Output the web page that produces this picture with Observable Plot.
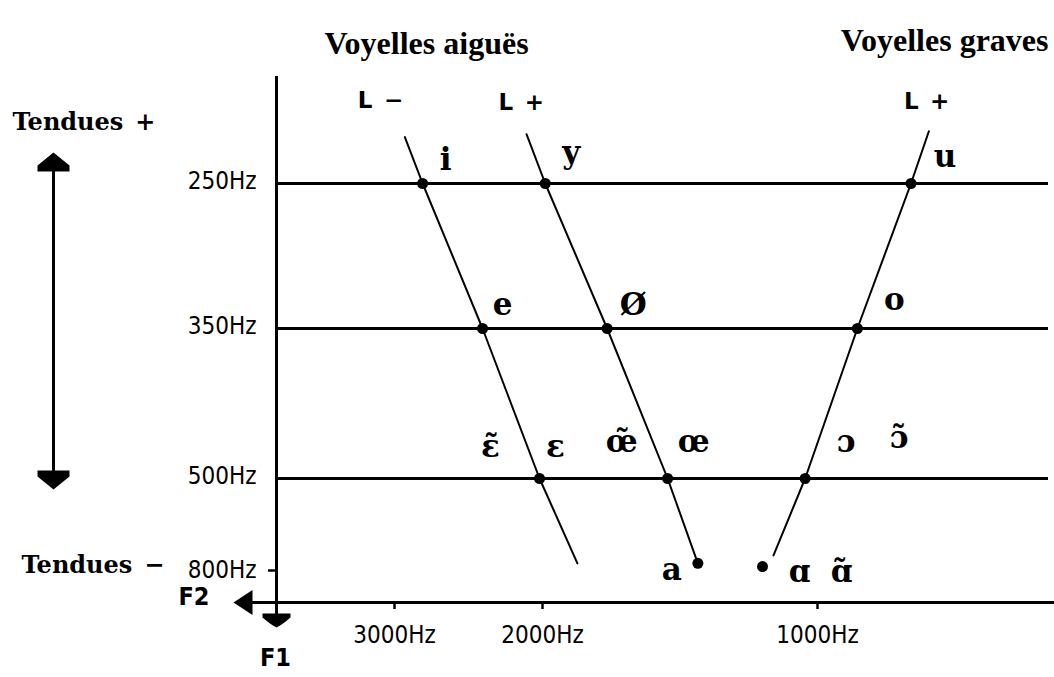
<!DOCTYPE html>
<html><head><meta charset="utf-8">
<script src="https://cdn.jsdelivr.net/npm/d3@7"></script>
<script src="https://cdn.jsdelivr.net/npm/@observablehq/plot@0.6"></script>
<style>
html,body{margin:0;padding:0;background:#fff;overflow:hidden;}
</style></head>
<body><div id="chart"></div>
<script>
// ---------- data ----------
const f2Ticks = [3000, 2000, 1000];          // F2 axis (Hz)
const f1Levels = [250, 350, 500];             // F1 levels with horizontal lines (Hz)
const f1Ticks = [250, 350, 500, 800];         // F1 axis (Hz)

const vowels = ["i", "e", "ɛ", "y", "ø", "œ", "a", "u", "o", "ɔ", "ɑ"];
const vowelF2 = [2810, 2405, 2020, 1990, 1765, 1545, 1435, 660, 855, 1045, 1200];
const vowelF1 = [250, 350, 500, 250, 350, 500, 768, 250, 350, 500, 778];

const seriesNames = ["L −", "L +", "L +"];
const seriesVowels = [["i", "e", "ɛ"], ["y", "ø", "œ", "a"], ["u", "o", "ɔ"]];
const seriesTopF2 = [2930, 2108, 595];
const seriesTopF1 = [218, 216, 214];
const seriesEndF2 = [1873, null, 1160];
const seriesEndF1 = [768, null, 743];

const labelTexts = ["i", "y", "u", "e", "Ø", "o", "ɛ̃", "ɛ", "œ̃", "œ", "ɔ", "ɔ̃", "a", "ɑ", "ɑ̃"];
const labelVowel = ["i", "y", "u", "e", "ø", "o", "ɛ", "ɛ", "œ", "œ", "ɔ", "ɔ", "a", "ɑ", "ɑ"];

const titles = ["Voyelles aiguës", "Voyelles graves"];
const sideLabels = ["Tendues\u2002+", "Tendues\u2002−"];
const axisNames = ["F2", "F1"];

// ---------- layout / style ----------
const SERIF = "'DejaVu Serif', serif";
const TIMES = "'Liberation Serif', serif";
const NARROW = "'Liberation Sans Narrow', 'DejaVu Sans Condensed', 'Arial Narrow', sans-serif";
const SANS = "'DejaVu Sans', sans-serif";
const labelOffsets = [[23,-23],[26,-30],[34,-26],[20,-23],[26,-23],[37,-28],[-49,-31],[16,-31],[-46,-36],[26,-36],[41,-36],[94,-40],[-26,7],[37,6],[79,6]];
const seriesLabelOffsets = [[-47,-36],[-28,-32],[-25,-30]];

const vowelRows = vowels.map((v, i) => ({vowel: v, F2: vowelF2[i], F1: vowelF1[i]}));
const byVowel = Object.fromEntries(vowelRows.map(d => [d.vowel, d]));
const lineRows = [];
seriesNames.forEach((s, k) => {
  lineRows.push({series: k, F2: seriesTopF2[k], F1: seriesTopF1[k]});
  seriesVowels[k].forEach(v => lineRows.push({series: k, F2: byVowel[v].F2, F1: byVowel[v].F1}));
  if (seriesEndF2[k] != null) lineRows.push({series: k, F2: seriesEndF2[k], F1: seriesEndF1[k]});
});
const seriesTops = seriesNames.map((s, k) => ({name: s, F2: seriesTopF2[k], F1: seriesTopF1[k]}));

// arrowhead shapes (decoration)
const leftHead = {draw(c){ c.moveTo(-43,0); c.lineTo(-24,-12.5); c.lineTo(-24,12.5); c.closePath(); }};
const downHead = {draw(c){ c.moveTo(-14,11); c.lineTo(14,11); c.lineTo(14,15); c.quadraticCurveTo(6,22,0,25); c.quadraticCurveTo(-6,22,-14,15); c.closePath(); }};
const doubleArrow = {draw(c){
  c.moveTo(0,75); c.lineTo(16,88); c.lineTo(16,94); c.lineTo(1.5,94); c.lineTo(1.5,393);
  c.lineTo(16,393); c.lineTo(16,399); c.lineTo(0,412); c.lineTo(-16,399); c.lineTo(-16,393);
  c.lineTo(-1.5,393); c.lineTo(-1.5,94); c.lineTo(-16,94); c.lineTo(-16,88); c.closePath();
}};

const tickFont = {fontSize: 24, fontFamily: NARROW};
const marks = [
  Plot.ruleY(f1Levels, {stroke: "black", strokeWidth: 3}),
  Plot.line(lineRows, {x: "F2", y: "F1", z: "series", stroke: "black", strokeWidth: 2}),
  Plot.dot(vowelRows, {x: "F2", y: "F1", r: 5.5, fill: "black", stroke: "none"}),
  Plot.frame({anchor: "left", stroke: "black", strokeWidth: 3, insetBottom: -11}),
  Plot.frame({anchor: "bottom", stroke: "black", strokeWidth: 3, insetLeft: -30, insetRight: -6}),
  Plot.dot([0], {frameAnchor: "bottom-left", symbol: leftHead, fill: "black", stroke: "none"}),
  Plot.dot([0], {frameAnchor: "bottom-left", symbol: downHead, fill: "black", stroke: "none"}),
  Plot.dot([0], {frameAnchor: "top-left", dx: -223, symbol: doubleArrow, fill: "black", stroke: "none"}),
  Plot.axisX(f2Ticks, {anchor: "bottom", tickSize: 7, tickPadding: 16, strokeWidth: 2.5,
    tickFormat: d => `${d}Hz`, ...tickFont, label: null}),
  Plot.axisY(f1Levels, {anchor: "left", tickSize: 0, tickPadding: 20, dy: -2,
    tickFormat: d => `${d}Hz`, ...tickFont, label: null}),
  Plot.axisY([800], {anchor: "left", tickSize: 8, tickPadding: 12, dy: -3, strokeWidth: 2.5,
    tickFormat: d => `${d}Hz`, ...tickFont, label: null}),
  Plot.text([titles[0]], {frameAnchor: "top-left", textAnchor: "middle", dx: 150, dy: -46, fontSize: 32, fontWeight: "bold", fontFamily: TIMES}),
  Plot.text([titles[1]], {frameAnchor: "top-right", textAnchor: "end", dx: 0, dy: -49, fontSize: 32, fontWeight: "bold", fontFamily: TIMES}),
  Plot.text([sideLabels[0]], {frameAnchor: "top-left", textAnchor: "start", dx: -264, dy: 35, fontSize: 24, fontWeight: "bold", fontFamily: SERIF}),
  Plot.text([sideLabels[1]], {frameAnchor: "top-left", textAnchor: "start", dx: -255, dy: 478, fontSize: 24, fontWeight: "bold", fontFamily: SERIF}),
  Plot.text([axisNames[0]], {frameAnchor: "bottom-left", textAnchor: "end", dx: -67, dy: 2, fontSize: 25, fontWeight: "bold", fontFamily: NARROW}),
  Plot.text([axisNames[1]], {frameAnchor: "bottom-left", textAnchor: "middle", dx: -1, dy: 63, fontSize: 25, fontWeight: "bold", fontFamily: NARROW}),
  ...seriesTops.map((d, k) => Plot.text([d], {x: "F2", y: "F1", text: d => d.name.replace(" ", "\u2002"),
    textAnchor: "start", dx: seriesLabelOffsets[k][0], dy: seriesLabelOffsets[k][1],
    fontSize: 23, fontWeight: "bold", fontFamily: SANS})),
  ...labelTexts.map((t, k) => Plot.text([byVowel[labelVowel[k]]], {x: "F2", y: "F1", text: () => t,
    dx: labelOffsets[k][0], dy: labelOffsets[k][1], fontSize: 31, fontWeight: "bold", fontFamily: SERIF}))
];

const chart = Plot.plot({
  width: 1054, height: 677,
  marginLeft: 276, marginRight: 6, marginTop: 77, marginBottom: 75,
  x: {type: "linear", domain: f2Ticks, range: [394, 542, 817], label: null},
  y: {type: "linear", domain: f1Ticks, range: [183, 328, 478, 573], label: null},
  style: {fontFamily: NARROW, background: "white", color: "black"},
  marks
});
document.getElementById("chart").appendChild(chart);
</script></body></html>
